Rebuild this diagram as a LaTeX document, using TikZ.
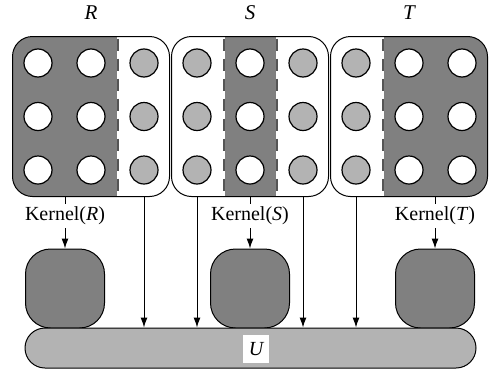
\documentclass[tikz,border=0pt]{standalone}
\usepackage{fontspec}
\setmainfont{Liberation Serif}
\usetikzlibrary{arrows.meta}
\definecolor{dk}{HTML}{808080}
\definecolor{lt}{HTML}{B3B3B3}
\definecolor{dshc}{HTML}{555555}
\begin{document}
\begin{tikzpicture}[x=0.5pt,y=-0.5pt,
  grp/.style={draw, line width=0.5pt, rounded corners=10pt, minimum width=78.5pt, minimum height=80pt, inner sep=0pt, fill=white},
  dshw/.style={draw=white, sharp corners, line width=1pt},
  dsh/.style={draw=dshc, sharp corners, line width=1pt, dash pattern=on 6pt off 4pt, dash phase=-1pt},
  wc/.style={circle, draw, line width=0.6pt, fill=white, minimum size=14pt, inner sep=0pt},
  gc/.style={wc, fill=lt},
  kbox/.style={draw, line width=0.5pt, fill=dk, rounded corners=12.5pt, minimum width=39.5pt, minimum height=39.5pt, inner sep=0pt},
  ubar/.style={draw, line width=0.5pt, fill=lt, rounded corners=9.99pt, minimum width=225.5pt, minimum height=20pt, inner sep=0pt},
  ttl/.style={font=\fontsize{10.5}{12}\selectfont\itshape, inner sep=1pt},
  klab/.style={inner sep=1.5pt},
  arr/.style={line width=0.5pt, -{Latex[length=5pt,width=3.5pt]}},
  ln/.style={line width=0.5pt}
]
\useasboundingbox (0,0) rectangle (490,375);
% group boxes
\node[grp, path picture={
  \fill[dk, sharp corners] (path picture bounding box.north west) rectangle ([xshift=13.25pt]path picture bounding box.south);
  \draw[dshw] ([xshift=13.25pt]path picture bounding box.north) -- ([xshift=13.25pt]path picture bounding box.south);
  \draw[dsh] ([xshift=13.25pt]path picture bounding box.north) -- ([xshift=13.25pt]path picture bounding box.south);
}] (R) at (91,116.5) {};
\node[grp, path picture={
  \fill[dk, sharp corners] ([xshift=-13.25pt]path picture bounding box.north) rectangle ([xshift=13.25pt]path picture bounding box.south);
  \draw[dshw] ([xshift=-13.25pt]path picture bounding box.north) -- ([xshift=-13.25pt]path picture bounding box.south);
  \draw[dsh] ([xshift=-13.25pt]path picture bounding box.north) -- ([xshift=-13.25pt]path picture bounding box.south);
  \draw[dshw] ([xshift=13.25pt]path picture bounding box.north) -- ([xshift=13.25pt]path picture bounding box.south);
  \draw[dsh] ([xshift=13.25pt]path picture bounding box.north) -- ([xshift=13.25pt]path picture bounding box.south);
}] (S) at (250,116.5) {};
\node[grp, path picture={
  \fill[dk, sharp corners] ([xshift=-13.25pt]path picture bounding box.north) rectangle (path picture bounding box.south east);
  \draw[dshw] ([xshift=-13.25pt]path picture bounding box.north) -- ([xshift=-13.25pt]path picture bounding box.south);
  \draw[dsh] ([xshift=-13.25pt]path picture bounding box.north) -- ([xshift=-13.25pt]path picture bounding box.south);
}] (T) at (409,116.5) {};
% circles
\foreach \r/\y in {1/63,2/116.5,3/170}{
  \node[wc] (c\r-1) at (38,\y) {};
  \node[wc] (c\r-2) at (91,\y) {};
  \node[gc] (c\r-3) at (144,\y) {};
  \node[gc] (c\r-4) at (197,\y) {};
  \node[wc] (c\r-5) at (250,\y) {};
  \node[gc] (c\r-6) at (303,\y) {};
  \node[gc] (c\r-7) at (356,\y) {};
  \node[wc] (c\r-8) at (409,\y) {};
  \node[wc] (c\r-9) at (462,\y) {};
}
% titles
\node[ttl] (tR) at (91,13) {R};
\node[ttl] (tS) at (250,13) {S};
\node[ttl] (tT) at (409,13) {T};
% kernel labels
\node[klab] (kl-R) at (65,216) {Kernel(\textit{R})};
\node[klab] (kl-S) at (250,216) {Kernel(\textit{S})};
\node[klab] (kl-T) at (435,216) {Kernel(\textit{T})};
% kernel boxes
\node[kbox] (kR) at (65,288.5) {};
\node[kbox] (kS) at (250,288.5) {};
\node[kbox] (kT) at (435,288.5) {};
% U bar
\node[ubar] (U) at (250.5,348) {};
\node[fill=white, font=\itshape, inner sep=0pt, minimum width=13pt, minimum height=14pt] (Ul) at (256,349) {U};
% connectors
\foreach \g in {R,S,T}{
  \draw[ln] (kl-\g |- \g.south) -- (kl-\g.north);
  \draw[arr] (kl-\g.south) -- (k\g.north);
}
\draw[arr] (c3-3 |- R.south) -- (c3-3 |- U.north);
\draw[arr] (c3-4 |- S.south) -- (c3-4 |- U.north);
\draw[arr] (c3-6 |- S.south) -- (c3-6 |- U.north);
\draw[arr] (c3-7 |- T.south) -- (c3-7 |- U.north);
\end{tikzpicture}
\end{document}
